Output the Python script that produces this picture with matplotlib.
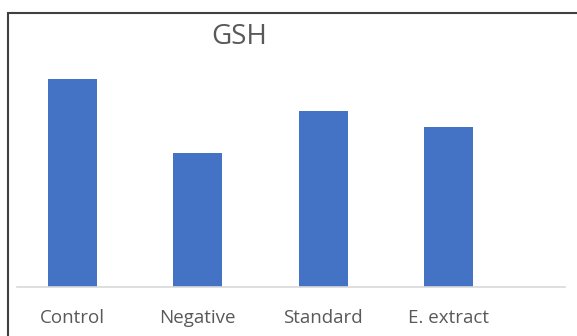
import matplotlib.pyplot as plt
from matplotlib.patches import Rectangle

groups = ['Control', 'Negative', 'Standard', 'E. extract']
gsh = [5.2, 3.35, 4.4, 4.0]

plt.rcParams['font.family'] = ['Open Sans', 'DejaVu Sans']

fig = plt.figure(figsize=(5.77, 3.36), dpi=100)
ax = fig.add_axes([17 / 577, 49 / 336, 548 / 577, 275 / 336])

x = list(range(len(groups)))
ax.bar(x, gsh, width=0.39, color='#4472C4')

ax.set_xlim(-0.443, 3.93)
ax.set_ylim(0, 6.875)
ax.set_yticks([])
ax.set_xticks(x)
ax.set_xticklabels(groups, fontsize=13.5, color='#595959')
ax.tick_params(axis='x', length=0, pad=15.5)
for s in ['top', 'right', 'left']:
    ax.spines[s].set_visible(False)
ax.spines['bottom'].set_color('#d9d9d9')
ax.spines['bottom'].set_linewidth(1.2)

fig.text(239 / 577, 1 - 37 / 336, 'GSH', ha='center', va='center',
         fontsize=20, color='#595959')

# outer frame, runs off the right and bottom edges
fig.patches.append(Rectangle((7.5 / 577, -0.1), 1.2, 1 - 12.5 / 336 + 0.1,
                             transform=fig.transFigure, fill=False,
                             edgecolor='#404040', linewidth=1.5))

fig.savefig('out.png', dpi=100)
